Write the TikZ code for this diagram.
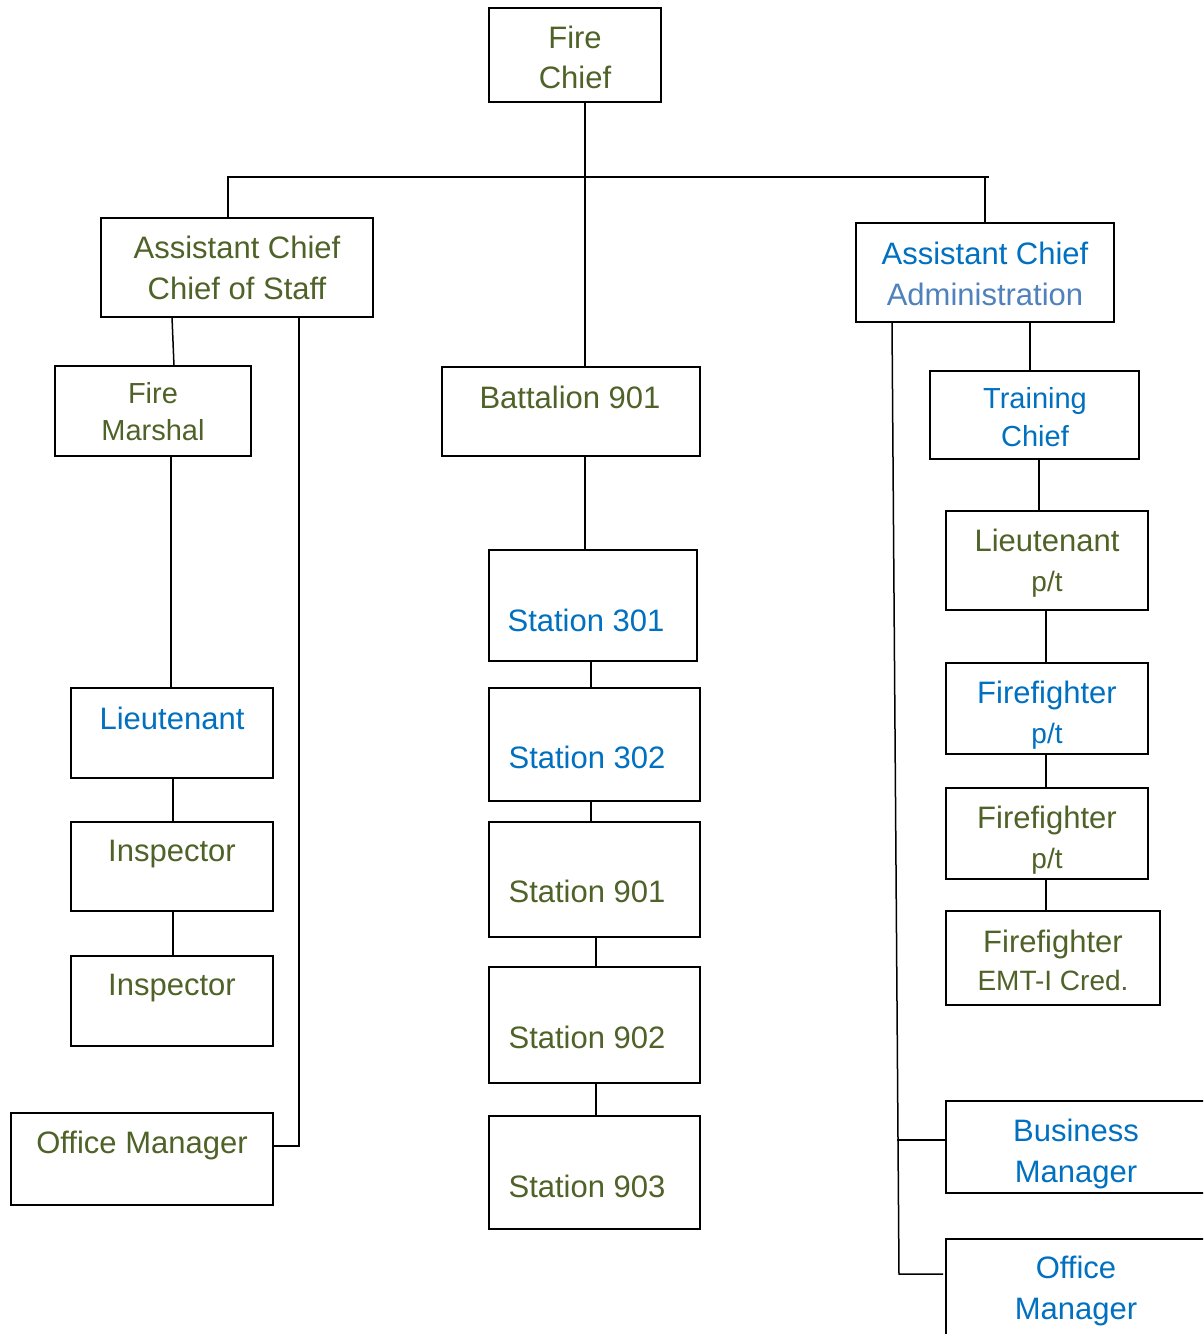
\documentclass[tikz,border=0pt]{standalone}
\usepackage{fontspec}
\setmainfont{Liberation Sans}
\definecolor{olive}{HTML}{4F6228}
\definecolor{blu}{HTML}{0070C0}
\definecolor{lblu}{HTML}{4F81BD}
\tikzset{
  obox/.style={draw=black, line width=1.6pt, rectangle, inner sep=0pt, outer sep=0pt},
  conn/.style={draw=black, line width=1.5pt},
  txt/.style={align=center, inner sep=0pt, text depth=0pt, font=\fontsize{31}{40}\selectfont},
  og/.style={txt, text=olive},
  bl/.style={txt, text=blu}
}
\newcommand{\obx}[5]{\node[obox, minimum width={(#4-#2)*1pt}, minimum height={(#5-#3)*1pt}] (#1) at ({(#2+#4)/2},{(#3+#5)/2}) {};}
\begin{document}
\begin{tikzpicture}[x=1pt,y=-1pt]
\clip (0,0) rectangle (1203,1334);
\fill[white] (0,0) rectangle (1203,1334);
% boxes
\obx{chief}{489}{8}{661}{102}
\obx{acs}{101}{218}{373}{317}
\obx{aca}{856}{223}{1114}{322}
\obx{fm}{55}{366}{251}{456}
\obx{batt}{442}{367}{700}{456}
\obx{tc}{930}{371}{1139}{459}
\obx{ltp}{946}{511}{1148}{610}
\obx{sA}{489}{550}{697}{661}
\obx{lt}{71}{688}{273}{778}
\obx{sB}{489}{688}{700}{801}
\obx{ffA}{946}{663}{1148}{754}
\obx{ffB}{946}{788}{1148}{879}
\obx{insA}{71}{822}{273}{911}
\obx{sC}{489}{822}{700}{937}
\obx{emt}{946}{911}{1160}{1005}
\obx{insB}{71}{956}{273}{1046}
\obx{sD}{489}{967}{700}{1083}
\obx{omL}{11}{1113}{273}{1205}
\obx{sE}{489}{1116}{700}{1229}
\obx{bm}{946}{1101}{1220}{1193}
\obx{omR}{946}{1239}{1220}{1345}
% texts
\node[og] (tchief) at (575,57) {Fire\\Chief};
\node[og, font=\fontsize{31}{41}\selectfont] (tacs) at (237,267.5) {Assistant Chief\\Chief of Staff};
\node[txt, font=\fontsize{31}{41}\selectfont] (taca) at (985,273.5) {\textcolor{blu}{Assistant Chief}\\\textcolor{lblu}{Administration}};
\node[og, font=\fontsize{29}{37}\selectfont] (tfm) at (153,411.5) {Fire\\Marshal};
\node[og] (tbatt) at (570,397) {Battalion 901};
\node[bl, font=\fontsize{29}{38}\selectfont] (ttc) at (1035,417) {Training\\Chief};
\node[og] (tltp) at (1047,560) {Lieutenant\\{\fontsize{28}{40}\selectfont p/t}};
\node[bl] (tsA) at (586,620) {Station 301};
\node[bl] (tlt) at (172,718) {Lieutenant};
\node[bl] (tsB) at (587,757) {Station 302};
\node[bl] (tffA) at (1047,712) {Firefighter\\{\fontsize{28}{40}\selectfont p/t}};
\node[og] (tffB) at (1047,837) {Firefighter\\{\fontsize{28}{40}\selectfont p/t}};
\node[og] (tinsA) at (172,851) {Inspector};
\node[og] (tsC) at (587,891) {Station 901};
\node[og, font=\fontsize{31}{38}\selectfont] (temt) at (1053,960) {Firefighter\\{\fontsize{28}{38}\selectfont EMT-I Cred.}};
\node[og] (tinsB) at (172,985) {Inspector};
\node[og] (tsD) at (587,1037) {Station 902};
\node[og] (tomL) at (142,1142) {Office Manager};
\node[og] (tsE) at (587,1186) {Station 903};
\node[bl, font=\fontsize{31}{41}\selectfont] (tbm) at (1076,1150.5) {Business\\Manager};
\node[bl, font=\fontsize{31}{41}\selectfont] (tomR) at (1076,1287.5) {Office\\Manager};
% connectors
\coordinate (busL) at (228,177);
\coordinate (busR) at (989,177);
\coordinate (aL) at (899,1274);
\coordinate (bmL) at (897,1140);
\draw[conn] ([xshift=10pt]chief.south) -- ([xshift=14pt]batt.north);
\draw[conn] ([xshift=-9pt]acs.north) -- (busL) -- (busR);
\draw[conn] (aca.north) -- (aca.north |- busR);
\draw[conn] ([xshift=-65pt]acs.south) -- ([xshift=21pt]fm.north);
\draw[conn] ([xshift=62pt]acs.south) |- ([yshift=13pt]omL.east);
\draw[conn] ([xshift=18pt]fm.south) -- ([xshift=-1pt]lt.north);
\draw[conn] ([xshift=1pt]lt.south) -- ([xshift=1pt]insA.north);
\draw[conn] ([xshift=1pt]insA.south) -- ([xshift=1pt]insB.north);
\draw[conn] ([xshift=14pt]batt.south) -- ([xshift=-8pt]sA.north);
\draw[conn] ([xshift=-2pt]sA.south) -- ([xshift=-3.5pt]sB.north);
\draw[conn] ([xshift=-3.5pt]sB.south) -- ([xshift=-3.5pt]sC.north);
\draw[conn] ([xshift=1.5pt]sC.south) -- ([xshift=1.5pt]sD.north);
\draw[conn] ([xshift=1.5pt]sD.south) -- ([xshift=1.5pt]sE.north);
\draw[conn] ([xshift=45pt]aca.south) -- ([xshift=-4.5pt]tc.north);
\draw[conn] ([xshift=4.5pt]tc.south) -- ([xshift=-8pt]ltp.north);
\draw[conn] ([xshift=-1pt]ltp.south) -- ([xshift=-1pt]ffA.north);
\draw[conn] ([xshift=-1pt]ffA.south) -- ([xshift=-1pt]ffB.north);
\draw[conn] ([xshift=-1pt]ffB.south) -- ([xshift=-7pt]emt.north);
\draw[conn] ([xshift=-93pt]aca.south) -- (aL) -- ([xshift=-3pt,yshift=18pt]omR.west);
\draw[conn] (bmL) -- ([yshift=7pt]bm.west);
\end{tikzpicture}
\end{document}
